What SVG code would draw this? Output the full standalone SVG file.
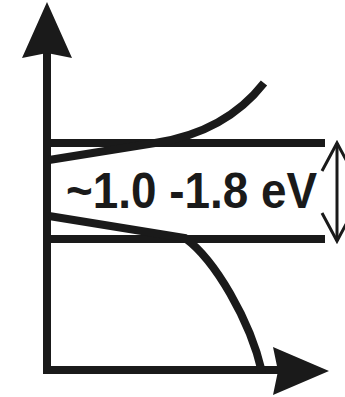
<svg xmlns="http://www.w3.org/2000/svg" width="345" height="397" viewBox="0 0 345 397">
<style>
.ax{stroke:#1a1a1a;stroke-width:8;fill:none}
.band{stroke:#1a1a1a;stroke-width:8;fill:none}
.curve{stroke:#1a1a1a;stroke-width:8;fill:none;stroke-linecap:butt}
.head{fill:#1a1a1a}
.dbl{stroke:#1a1a1a;stroke-width:3;fill:none}
.lbl{font-family:"Liberation Sans",Arial,sans-serif;font-weight:bold;font-size:50px;fill:#1a1a1a}
</style>
<rect width="345" height="397" fill="#fff"/>
<g id="axes">
<line class="ax" x1="47" y1="50" x2="47" y2="374"/>
<line class="ax" x1="43" y1="370" x2="280" y2="370"/>
<polygon class="head" points="47,2 72,58 47,53 22,58"/>
<polygon class="head" points="329,371 273,347 278,371 273,395"/>
</g>
<g id="conduction-band">
<line class="band" x1="47" y1="143" x2="325" y2="143"/>
<path class="curve" d="M49,160 L155,143 C195,137 235,120 264,83"/>
</g>
<g id="valence-band">
<line class="band" x1="47" y1="239" x2="325" y2="239"/>
<path class="curve" d="M49,216 L185,238 C215,260 250,320 262,372"/>
</g>
<g id="connectors">
<line class="dbl" x1="337" y1="143" x2="337" y2="241"/>
<polyline class="dbl" points="322,171 337,143 352,171"/>
<polyline class="dbl" points="322,213 337,241 352,213"/>
</g>
<g id="label">
<text class="lbl" x="66" y="208" textLength="251" lengthAdjust="spacingAndGlyphs">~1.0 -1.8 eV</text>
</g>
</svg>
